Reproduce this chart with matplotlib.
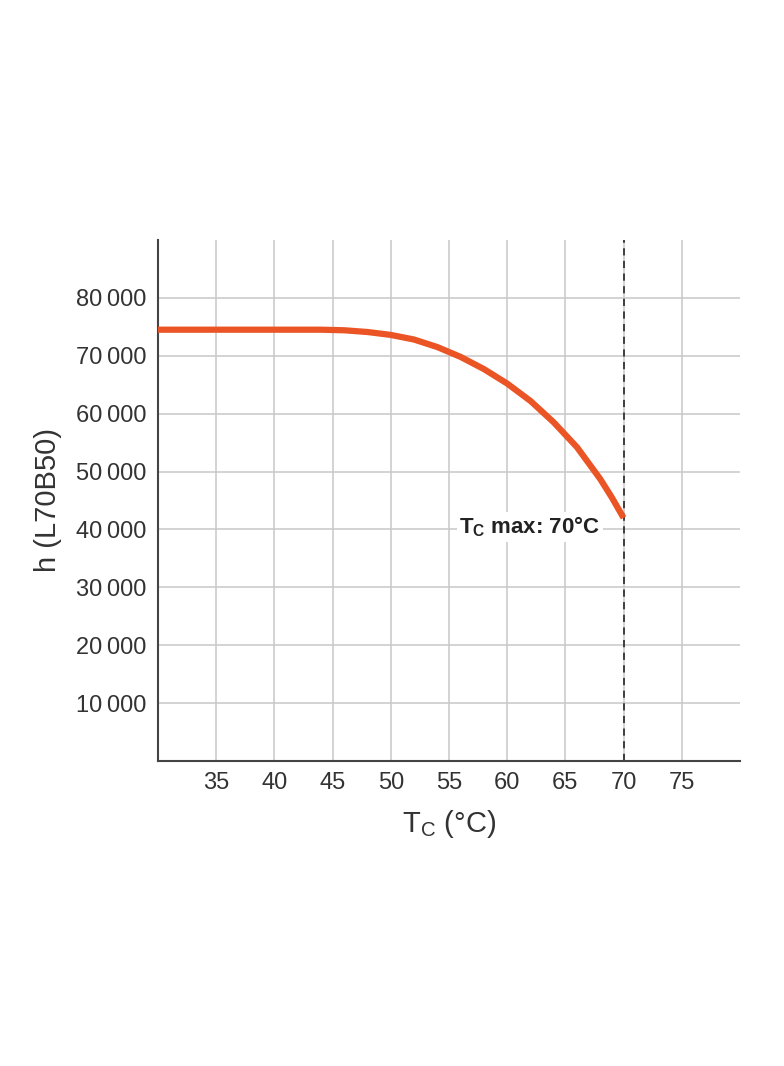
import numpy as np
import matplotlib.pyplot as plt

# curve points
tc = [30, 35, 40, 44, 46, 48, 50, 52, 54, 56, 58, 60, 62, 64, 66, 68, 69, 70]
hours = [74500, 74500, 74500, 74500, 74400, 74100, 73600, 72800, 71500, 69800, 67700, 65200, 62200, 58500, 54200, 48700, 45500, 42000]
xticks = [35, 40, 45, 50, 55, 60, 65, 70, 75]
yticks = [10000, 20000, 30000, 40000, 50000, 60000, 70000, 80000]
tc_max = 70

plt.rcParams['font.family'] = ['Liberation Sans', 'DejaVu Sans']
fig = plt.figure(figsize=(7.84, 10.66), dpi=100)
ax = fig.add_axes([0.2015, 0.2861, 0.7423, 0.4888])

ax.plot(tc, hours, color='#eb5424', lw=4.5, solid_capstyle='butt',
        solid_joinstyle='round', zorder=3)
ax.axvline(tc_max, color='#333333', lw=1.3, ls=(0, (4, 3)), zorder=2)
ax.text(68.0, 40500, 'T$_\\mathregular{C}$ max: 70°C', ha='right', va='center',
        fontsize=16, fontweight='bold', color='#222222',
        bbox=dict(facecolor='white', edgecolor='none', pad=2), zorder=4)

ax.set_xlim(30, 80)
ax.set_ylim(0, 90000)
ax.set_xticks(xticks)
ax.set_yticks(yticks)
ax.set_yticklabels([f'{v // 1000}\u2009000' for v in yticks])
ax.grid(True, color='#c8c8c8', lw=1.1)
ax.set_axisbelow(True)
for s in ['top', 'right']:
    ax.spines[s].set_visible(False)
for s in ['left', 'bottom']:
    ax.spines[s].set_color('#444444')
    ax.spines[s].set_linewidth(1.5)
ax.tick_params(length=0, labelsize=17, colors='#333333', pad=8)
ax.set_xlabel('T$_\\mathregular{C}$ (°C)', fontsize=21, color='#333333', labelpad=10)
ax.set_ylabel('h (L70B50)', fontsize=21, color='#333333', labelpad=10)

fig.savefig('out.png', dpi=100)
